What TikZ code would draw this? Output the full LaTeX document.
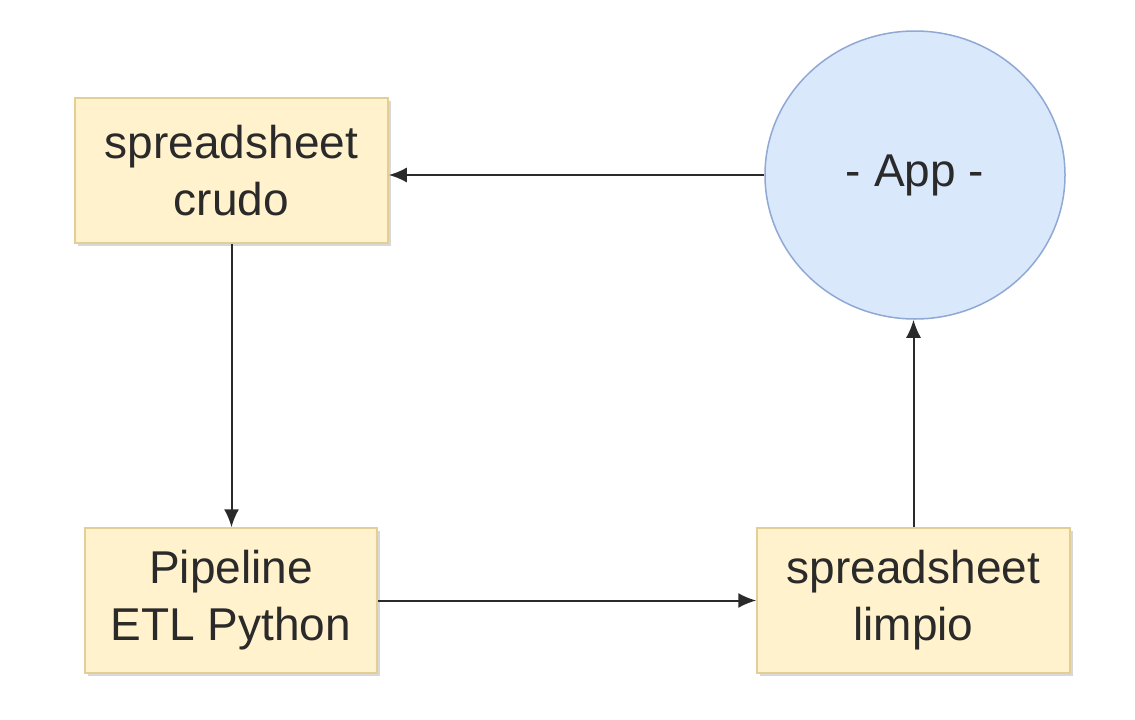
\documentclass[tikz,border=0pt]{standalone}
\usepackage{fontspec}
\setmainfont{Liberation Sans}
\usetikzlibrary{shapes.geometric,arrows.meta,shadows}
\definecolor{boxfill}{HTML}{FFF2CC}
\definecolor{boxline}{HTML}{E3CF95}
\definecolor{appfill}{HTML}{DAE8FC}
\definecolor{appline}{HTML}{8FA8D4}
\definecolor{txt}{HTML}{2A2A2A}
\definecolor{arr}{HTML}{2A2A2A}
\tikzset{
  box/.style={rectangle, draw=boxline, line width=1.5pt, fill=boxfill, align=center,
    minimum height=145pt, text=txt, font=\fontsize{46}{57}\selectfont,
    drop shadow={shadow xshift=3pt, shadow yshift=-3pt, fill=black!25, opacity=0.6}},
  appnode/.style={ellipse, draw=appline, line width=1.5pt, fill=appfill, text=txt,
    minimum width=300pt, minimum height=288pt, inner sep=0pt,
    font=\fontsize{46}{57}\selectfont},
  conn/.style={draw=arr, line width=2pt, -{Latex[length=18pt,width=15pt]}}
}
\begin{document}
\begin{tikzpicture}[x=1pt,y=-1pt]
\useasboundingbox (0,0) rectangle (1135,720);
\fill[white] (0,0) rectangle (1135,720);
\node[box, minimum width=313pt] (s1) at (231.5,170.5) {spreadsheet\\crudo};
\node[box, minimum width=292pt] (s2) at (231,600.5) {Pipeline\\ETL Python};
\node[box, minimum width=313pt] (s3) at (913.5,600.5) {spreadsheet\\limpio};
\node[appnode] (app) at (915,175) {- App -};
\draw[conn] (app.west) -- (app.west -| s1.east);
\draw[conn] (s1.south) -- (s1.south |- s2.north);
\draw[conn] (s2.east) -- (s2.east -| s3.west);
\draw[conn] (s3.north) -- (s3.north |- app.south);
\end{tikzpicture}
\end{document}
